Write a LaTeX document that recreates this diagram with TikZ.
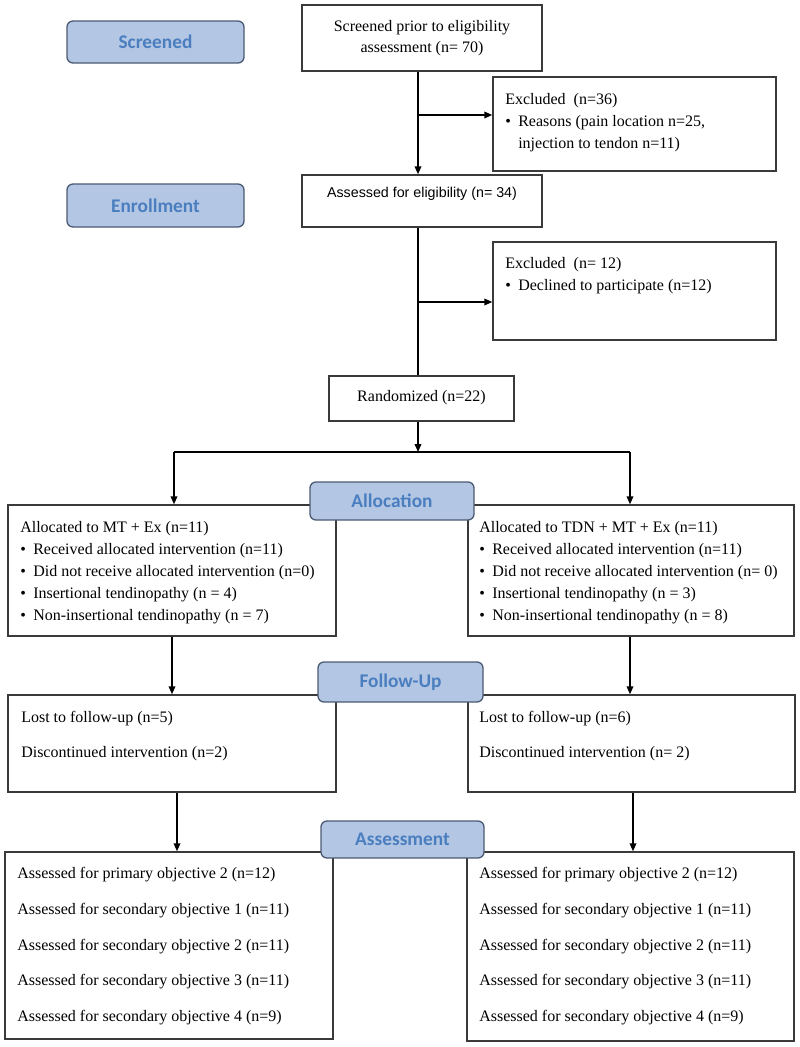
\documentclass[tikz,border=0pt]{standalone}
\usepackage{fontspec}
\setmainfont{Liberation Serif}
\newfontfamily\arialfont{Liberation Sans}
\newfontfamily\calfont{Carlito}
\usetikzlibrary{arrows.meta,fit}
\definecolor{labfill}{HTML}{B3C6E4}
\definecolor{labtext}{HTML}{4A7EBF}
\definecolor{labdraw}{HTML}{4B5A72}
\definecolor{boxc}{HTML}{3A3A3A}
\newcommand\bul{\makebox[9.75pt][l]{\textbullet}}
\newcommand\ind{\hspace*{9.75pt}}
\begin{document}
\begin{tikzpicture}[x=0.75pt,y=-0.75pt,
  box/.style={draw=boxc, line width=1.1pt, inner sep=0pt, rectangle},
  ctext/.style={inner sep=0pt, align=center, font=\fontsize{12pt}{15.75pt}\selectfont},
  lab/.style={draw=labdraw, fill=labfill, rounded corners=4.5pt, line width=1pt, inner sep=0pt},
  labtxt/.style={inner sep=0pt, text=labtext, font=\calfont\bfseries\fontsize{14.5pt}{16pt}\selectfont},
  txt/.style={anchor=north west, inner sep=0pt, align=left},
  s1/.style={font=\fontsize{12pt}{16.5pt}\selectfont},
  s2/.style={font=\fontsize{12pt}{26.25pt}\selectfont},
  s3/.style={font=\fontsize{12pt}{26.8pt}\selectfont},
  ln/.style={line width=1.1pt, black},
  arr/.style={ln, -{Triangle[length=6pt,width=5pt]}}]
\useasboundingbox (0,0) rectangle (800,1047);

% boxes
\node[box, fit={(302,5)(542,71)}] (b1) {};
\node[ctext] (t1) at (b1.center) {Screened prior to eligibility\\assessment (n= 70)};
\node[box, fit={(302,175)(542,227)}] (b2) {};
\node[inner sep=0pt, font=\arialfont\fontsize{10.7pt}{13pt}\selectfont] (t2) at (422,194) {Assessed for eligibility (n= 34)};
\node[box, fit={(493,77)(776,171)}] (ex1) {};
\node[txt, s1] (tex1) at (505,93) {Excluded\ \ (n=36)\\\bul Reasons (pain location n=25,\\\ind injection to tendon n=11)};
\node[box, fit={(493,242)(776,340)}] (ex2) {};
\node[txt, s1] (tex2) at (505,257) {Excluded\ \ (n= 12)\\\bul Declined to participate (n=12)};
\node[box, fit={(329,376)(514,421)}] (rand) {};
\node[ctext] (trand) at ([yshift=0.5pt]rand.center) {Randomized (n=22)};

\node[box, fit={(8,505)(336,636)}] (al) {};
\node[txt, s1] (tal) at (20,521) {Allocated to MT + Ex (n=11)\\\bul Received allocated intervention (n=11)\\\bul Did not receive allocated intervention (n=0)\\\bul Insertional tendinopathy (n = 4)\\\bul Non-insertional tendinopathy (n = 7)};
\node[box, fit={(468,505)(794,636)}] (ar) {};
\node[txt, s1] (tar) at (479,521) {Allocated to TDN + MT + Ex (n=11)\\\bul Received allocated intervention (n=11)\\\bul Did not receive allocated intervention (n= 0)\\\bul Insertional tendinopathy (n = 3)\\\bul Non-insertional tendinopathy (n = 8)};

\node[box, fit={(8,695)(336,792)}] (fl) {};
\node[txt, s2] (tfl) at (21,711) {Lost to follow-up (n=5)\\Discontinued intervention (n=2)};
\node[box, fit={(468,695)(795,792)}] (fr) {};
\node[txt, s2] (tfr) at (479,711) {Lost to follow-up (n=6)\\Discontinued intervention (n= 2)};

\node[box, fit={(5,852)(333,1039)}] (sl) {};
\node[txt, s3] (tsl) at (17,867) {Assessed for primary objective 2 (n=12)\\Assessed for secondary objective 1 (n=11)\\Assessed for secondary objective 2 (n=11)\\Assessed for secondary objective 3 (n=11)\\Assessed for secondary objective 4 (n=9)};
\node[box, fit={(467,852)(794,1041)}] (sr) {};
\node[txt, s3] (tsr) at (479,867) {Assessed for primary objective 2 (n=12)\\Assessed for secondary objective 1 (n=11)\\Assessed for secondary objective 2 (n=11)\\Assessed for secondary objective 3 (n=11)\\Assessed for secondary objective 4 (n=9)};

% connectors
\coordinate (j1) at (418,115);
\coordinate (j2) at (418,302);
\coordinate (j3) at (418,452);
\coordinate (jl) at (174,452);
\coordinate (jr) at (630,452);
\coordinate (cA) at (172,0);
\coordinate (cB) at (630,0);
\coordinate (cC) at (177,0);
\coordinate (cD) at (633,0);
\draw[arr] (b1.south -| j1) -- (b2.north -| j1);
\draw[arr] (j1) -- (ex1.west |- j1);
\draw[ln] (b2.south -| j1) -- (rand.north -| j1);
\draw[arr] (j2) -- (ex2.west |- j2);
\draw[arr] (rand.south -| j3) -- (j3);
\draw[ln] (jl) -- (jr);
\draw[arr] (jl) -- (al.north -| jl);
\draw[arr] (jr) -- (ar.north -| jr);
\draw[arr] (al.south -| cA) -- (fl.north -| cA);
\draw[arr] (ar.south -| cB) -- (fr.north -| cB);
\draw[arr] (fl.south -| cC) -- (sl.north -| cC);
\draw[arr] (fr.south -| cD) -- (sr.north -| cD);

% phase labels
\node[lab, fit={(67,21)(244,63)}] (lscr) {};
\node[labtxt] (tscr) at (lscr.center) {Screened};
\node[lab, fit={(67,184)(244,227)}] (lenr) {};
\node[labtxt] (tenr) at (lenr.center) {Enrollment};
\node[lab, fit={(310,482)(474,520)}] (lall) {};
\node[labtxt] (tall) at (lall.center) {Allocation};
\node[lab, fit={(318,662)(483,702)}] (lfol) {};
\node[labtxt] (tfol) at (lfol.center) {Follow-Up};
\node[lab, fit={(321,821)(484,858)}] (lass) {};
\node[labtxt] (tass) at (lass.center) {Assessment};
\end{tikzpicture}
\end{document}
